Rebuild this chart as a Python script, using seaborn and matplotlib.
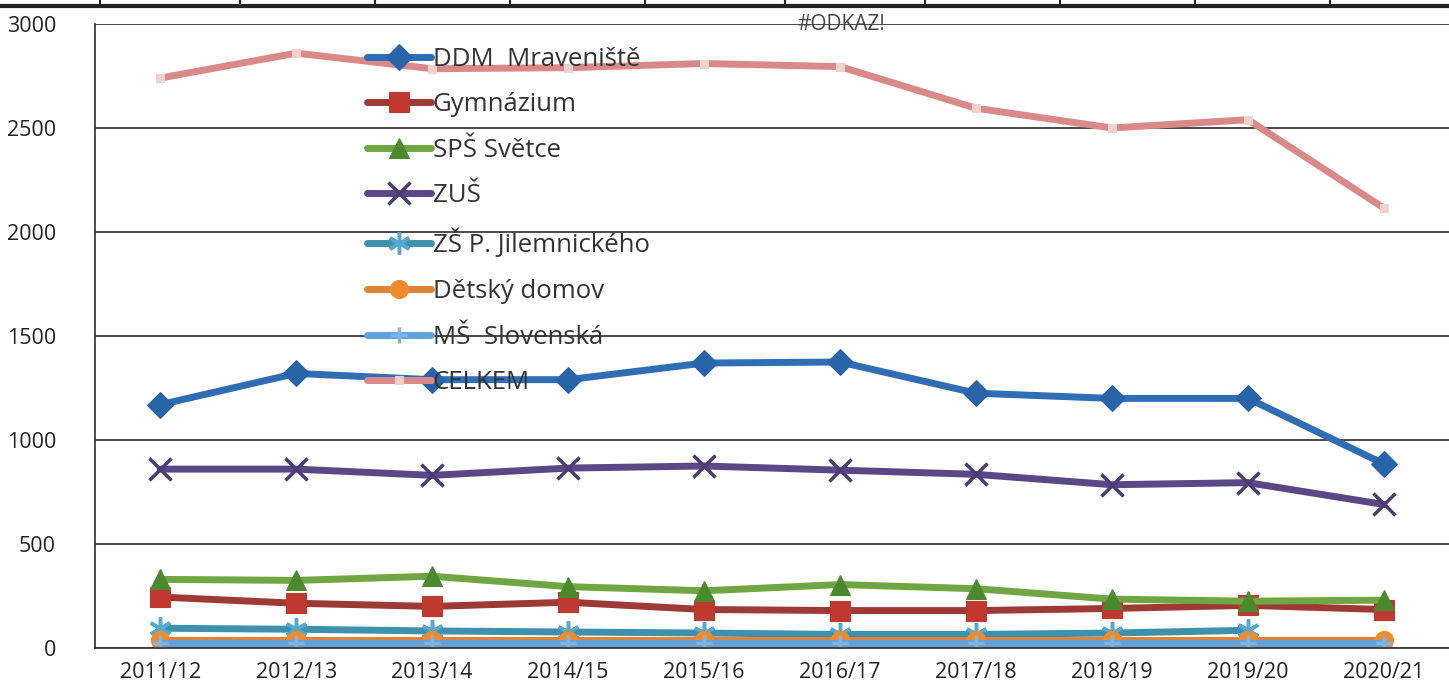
import matplotlib

matplotlib.use("Agg")
import matplotlib.pyplot as plt  # noqa: E402
import numpy as np  # noqa: E402
import pandas as pd  # noqa: E402
import seaborn as sns  # noqa: E402
from matplotlib.lines import Line2D  # noqa: E402

# ── Data ──────────────────────────────────────────────────────────────────────
YEARS = ["2011/12", "2012/13", "2013/14", "2014/15", "2015/16",
         "2016/17", "2017/18", "2018/19", "2019/20", "2020/21"]

DDM = [1170, 1320, 1290, 1290, 1370, 1375, 1225, 1200, 1200, 885]
GYMNAZIUM = [245, 215, 200, 220, 185, 180, 180, 190, 205, 185]
SPS = [330, 325, 345, 295, 275, 305, 285, 235, 225, 230]
ZUS = [860, 860, 830, 865, 875, 855, 835, 785, 795, 690]
ZS_JIL = [95, 90, 82, 77, 72, 65, 65, 72, 85, np.nan]
DETSKY = [40, 40, 40, 40, 40, 40, 40, 40, 40, 40]
MS = [22, 22, 22, 22, 22, 22, 22, 22, 22, 22]
CELKEM = [2740, 2860, 2785, 2790, 2810, 2795, 2595, 2500, 2540, 2115]

SERIES = [
    ("DDM  Mraveniště", DDM, "#2f6db5", "D", "#2a64a8", 13),
    ("Gymnázium", GYMNAZIUM, "#9e3a36", "s", "#c0392f", 14),
    ("SPŠ Světce", SPS, "#6fa643", "^", "#4a8a2c", 15),
    ("ZUŠ", ZUS, "#5a4886", "x", "#4b3c78", 16),
    ("ZŠ P. Jilemnického", ZS_JIL, "#3e90ac", (6, 2, 0), "#55a9d0", 16),
    ("Dětský domov", DETSKY, "#e0823a", "o", "#f08a2a", 13),
    ("MŠ  Slovenská", MS, "#63a2dc", "+", "#7fb4e4", 12),
    ("CELKEM", CELKEM, "#d98a88", "s", "#f4d0cf", 6),
]

# ── Style ─────────────────────────────────────────────────────────────────────
sns.set_theme(style="white")
plt.rcParams["font.family"] = ["Open Sans", "DejaVu Sans"]

fig = plt.figure(figsize=(14.49, 6.96), dpi=100)
ax = fig.add_axes([95 / 1449, 1 - 648 / 696, 1 - 95 / 1449 + 0.002, 624 / 696])

for name, values, color, marker, mcolor, msize in SERIES:
    df = pd.DataFrame({"year": YEARS, "value": values})
    sns.lineplot(
        data=df,
        x="year",
        y="value",
        ax=ax,
        color=color,
        linewidth=5,
        marker=marker,
        markersize=msize,
        markerfacecolor=mcolor,
        markeredgecolor=mcolor,
        markeredgewidth=2.5 if marker in ("x", "+", (6, 2, 0)) else 0.8,
        label=name,
    )

ax.set_xlim(-0.48, 9.5)
ax.set_ylim(0, 3000)
ax.set_yticks(range(0, 3001, 500))
ax.yaxis.grid(True, color="#3a3a3a", linewidth=1.3)
ax.set_axisbelow(True)
ax.set_xlabel("")
ax.set_ylabel("")

for side in ("top", "right"):
    ax.spines[side].set_visible(False)
for side in ("left", "bottom"):
    ax.spines[side].set_color("#3a3a3a")
    ax.spines[side].set_linewidth(1.3)

ax.tick_params(axis="y", length=0, pad=28, labelsize=15.5, labelcolor="#222222")
ax.tick_params(axis="x", length=0, pad=10, labelsize=15.5, labelcolor="#222222")

leg = ax.legend(
    loc="upper left",
    bbox_to_anchor=(0.193, 0.98),
    frameon=False,
    fontsize=18.5,
    handlelength=2.5,
    handletextpad=0.05,
    labelspacing=0.8,
    borderaxespad=0,
)
for text in leg.get_texts():
    text.set_color("#333333")

ax.text(0.55, 1.0, "#ODKAZ!", transform=ax.transAxes, ha="center",
        va="center", fontsize=15, color="#444444")

# table edge from the scanned page above the chart
fig.add_artist(Line2D([0, 1], [1 - 6 / 696, 1 - 6 / 696], color="#222222",
                      linewidth=3, transform=fig.transFigure))
for px in (100, 240, 375, 510, 645, 785, 925, 1060, 1195, 1330):
    fig.add_artist(Line2D([px / 1449, px / 1449], [1 - 6 / 696, 1], color="#222222",
                          linewidth=1.5, transform=fig.transFigure))

fig.savefig("out.png", dpi=100)
